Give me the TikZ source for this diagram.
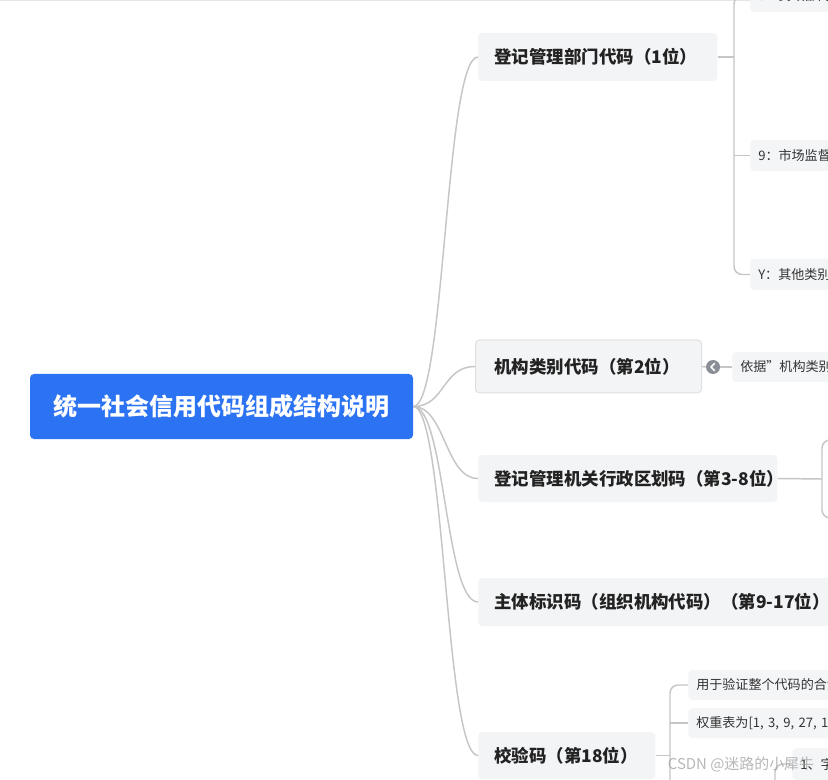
\documentclass[tikz,border=0pt]{standalone}
\usepackage{fontspec}
\setmainfont{Noto Sans CJK SC}
\definecolor{rootblue}{HTML}{2C73F3}
\definecolor{boxgray}{HTML}{F3F4F6}
\definecolor{leafgray}{HTML}{F4F5F7}
\definecolor{linegray}{HTML}{C6C6C6}
\definecolor{txtdark}{HTML}{222222}
\definecolor{txtleaf}{HTML}{333333}
\definecolor{togglegray}{HTML}{8A8E96}
\begin{document}
\begin{tikzpicture}[x=0.75pt,y=-0.75pt,
  conn/.style={draw=linegray,line width=1.1pt},
  rootbox/.style={fill=rootblue,rounded corners=3pt,text=white,
    font=\bfseries\fontsize{18}{22}\selectfont,minimum width=287.25pt,minimum height=48.75pt},
  branch/.style={fill=boxgray,rounded corners=3pt,text=txtdark,anchor=west,align=left,
    inner xsep=12pt,inner ysep=0pt,font=\bfseries\fontsize{13.1}{15}\selectfont},
  leaf/.style={fill=leafgray,rounded corners=3pt,text=txtleaf,anchor=west,align=left,
    inner xsep=6pt,inner ysep=0pt,text width=300pt,font=\fontsize{9.8}{12}\selectfont}]
\useasboundingbox (0,0) rectangle (828,780);
\clip (0,0) rectangle (828,780);
\fill[white] (0,0) rectangle (828,780);
\draw[draw=black!10,line width=0.75pt] (0,1) -- (828,1);

% root
\node[rootbox] (root) at (221.5,406.5) {统一社会信用代码组成结构说明};

% branches
\node[branch,text width=155.25pt,minimum height=36pt] (b1) at (478,57) {\mbox{登记管理部门代码（1位）}};
\node[branch,draw=black!12,line width=0.75pt,inner xsep=14.25pt,text width=141pt,minimum height=39.75pt] (b2) at (475,366.5) {\mbox{机构类别代码（第2位）}};
\node[branch,text width=200.25pt,minimum height=35.25pt] (b3) at (478,478.5) {\mbox{登记管理机关行政区划码（第3-8位）}};
\node[branch,text width=290pt,minimum height=36pt] (b4) at (478,602) {\mbox{主体标识码（组织机构代码）（第9-17位）}};
\node[branch,text width=108.75pt,minimum height=35.25pt] (b5) at (478,755.5) {\mbox{校验码（第18位）}};

\foreach \b in {b1,b2,b3,b4,b5}{
  \draw[conn] (root.east) .. controls +(32,0) and +(-33,0) .. (\b.west);
}

% children of b1
\node[leaf,minimum height=24pt] (c0) at (750,-4) {\mbox{5：民政部门}};
\node[leaf,minimum height=23.25pt] (c1) at (750,155.5) {\mbox{9：市场监督管理部门}};
\node[leaf,minimum height=23.25pt] (c2) at (750,274.5) {\mbox{Y：其他类别的登记管理部门}};
\coordinate (j1) at (734,57);
\draw[conn] (b1.east) -- (j1);
\draw[conn,rounded corners=6pt] (c0.west) -| (j1) |- (c2.west);
\draw[conn] (j1 |- c1.west) -- (c1.west);

% child of b2
\node[circle,fill=togglegray,minimum size=10.5pt,inner sep=0pt] (tog) at (713,367) {};
\node[leaf,minimum height=22.5pt] (c3) at (732,367) {\mbox{依据"机构类别代码表"设置}};
\draw[conn] (b2.east) -- (tog.west);
\draw[conn] (tog.east) -- (c3.west);
\draw[white,line width=1.3pt,line cap=round,line join=round] (714.5,363.5) -- (711,367) -- (714.5,370.5);

% bracket of b3
\coordinate (j3) at (822,479);
\draw[conn] (b3.east) -- (j3);
\draw[conn,rounded corners=6pt] (840,440) -| (j3) |- (840,518);

% children of b5
\node[leaf,minimum height=22.5pt] (c6) at (688,685) {\mbox{用于验证整个代码的合法性}};
\node[leaf,minimum height=22.5pt] (c7) at (688,723) {\mbox{权重表为[1, 3, 9, 27, 19, 26, 16, 17, 20, 29, 25, 13, 8, 24, 10, 30, 28]}};
\coordinate (j5) at (670,755.5);
\draw[conn] (b5.east) -- (j5);
\draw[conn,rounded corners=6pt] (c6.west) -| (j5) -- (670,800);
\draw[conn] (j5 |- c7.west) -- (c7.west);
\node[leaf,minimum height=24pt] (c8) at (792,764) {\mbox{1、字符集}};
\coordinate (j8) at (775,800);
\draw[conn,rounded corners=6pt] (c8.west) -| (j8);

% watermark
\node[text=black!35,opacity=0.8,font=\fontsize{11.2}{13}\selectfont,inner sep=0pt] (wm) at (741,764) {CSDN @迷路的小犀牛};
\end{tikzpicture}
\end{document}
